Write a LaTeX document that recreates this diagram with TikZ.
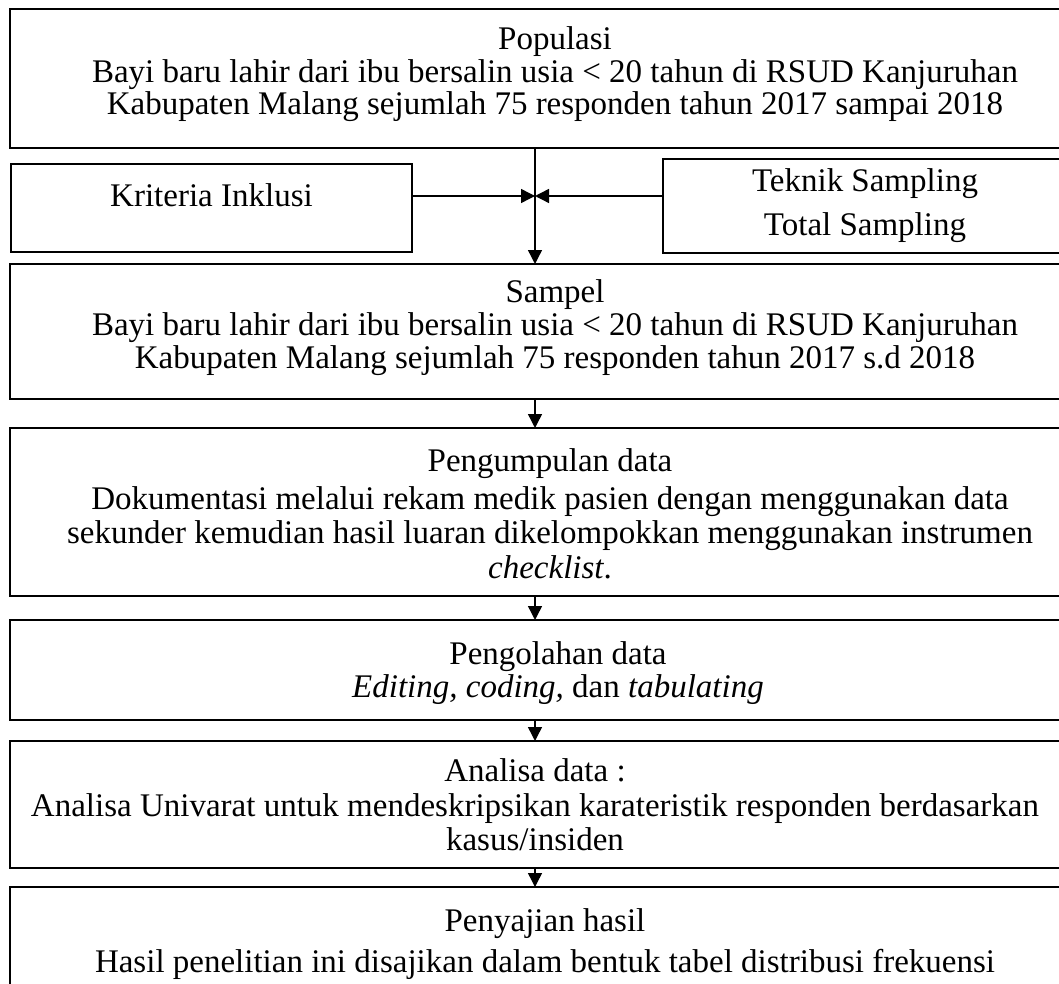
\documentclass[tikz,border=0pt]{standalone}
\usepackage{fontspec}
\setmainfont{Liberation Serif}
\usetikzlibrary{arrows.meta}
\newcommand\boxtext[3]{\parbox[c][#1][t]{#2}{\centering #3}}
\begin{document}
\begin{tikzpicture}[x=1pt,y=-1pt,
  box/.style={draw, line width=2pt, inner sep=0pt, outer sep=0pt, anchor=north west},
  arr/.style={line width=1.4pt, -{Triangle[length=14pt,width=14pt]}},
  font=\fontsize{33}{34}\selectfont]
\useasboundingbox (0,0) rectangle (1059,984);
\node[box] (pop) at (10,9) {\boxtext{139pt}{1090pt}{\rule{0pt}{41pt}Populasi\\[-1pt]
Bayi baru lahir dari ibu bersalin usia < 20 tahun di RSUD Kanjuruhan\\[-2pt]
Kabupaten Malang sejumlah 75 responden tahun 2017 sampai 2018}};
\node[box] (krit) at (11,164) {\boxtext{88pt}{401pt}{\rule{0pt}{43pt}Kriteria Inklusi}};
\node[box] (tek) at (663,159) {\boxtext{94pt}{404pt}{\rule{0pt}{33pt}Teknik Sampling\\[10pt]
Total Sampling}};
\node[box] (sam) at (10,264) {\boxtext{135pt}{1090pt}{\rule{0pt}{38pt}Sampel\\[-1pt]
Bayi baru lahir dari ibu bersalin usia < 20 tahun di RSUD Kanjuruhan\\[-1pt]
Kabupaten Malang sejumlah 75 responden tahun 2017 s.d 2018}};
\node[box] (kum) at (10,428) {\boxtext{168pt}{1080pt}{\rule{0pt}{43pt}Pengumpulan data\\[4pt]
Dokumentasi melalui rekam medik pasien dengan menggunakan data\\
sekunder kemudian hasil luaran dikelompokkan menggunakan instrumen\\[1pt]
\textit{checklist}.}};
\node[box] (olah) at (10,620) {\boxtext{100pt}{1096pt}{\rule{0pt}{44pt}Pengolahan data\\[-1pt]
\textit{Editing, coding,} dan \textit{tabulating}}};
\node[box] (anal) at (10,741) {\boxtext{127pt}{1050pt}{\rule{0pt}{40pt}Analisa data :\\[1pt]
Analisa Univarat untuk mendeskripsikan karateristik responden berdasarkan\\
kasus/insiden}};
\node[box] (saji) at (10,887) {\boxtext{130pt}{1070pt}{\rule{0pt}{44pt}Penyajian hasil\\[7pt]
Hasil penelitian ini disajikan dalam bentuk tabel distribusi frekuensi}};
\coordinate (m) at (535,196);
\draw[arr] (pop.south -| m) -- (sam.north -| m);
\draw[arr] (krit.east |- m) -- (m);
\draw[arr] (tek.west |- m) -- (m);
\draw[arr] (sam.south -| m) -- (kum.north -| m);
\draw[arr] (kum.south -| m) -- (olah.north -| m);
\draw[arr] (olah.south -| m) -- (anal.north -| m);
\draw[arr] (anal.south -| m) -- (saji.north -| m);
\end{tikzpicture}
\end{document}
